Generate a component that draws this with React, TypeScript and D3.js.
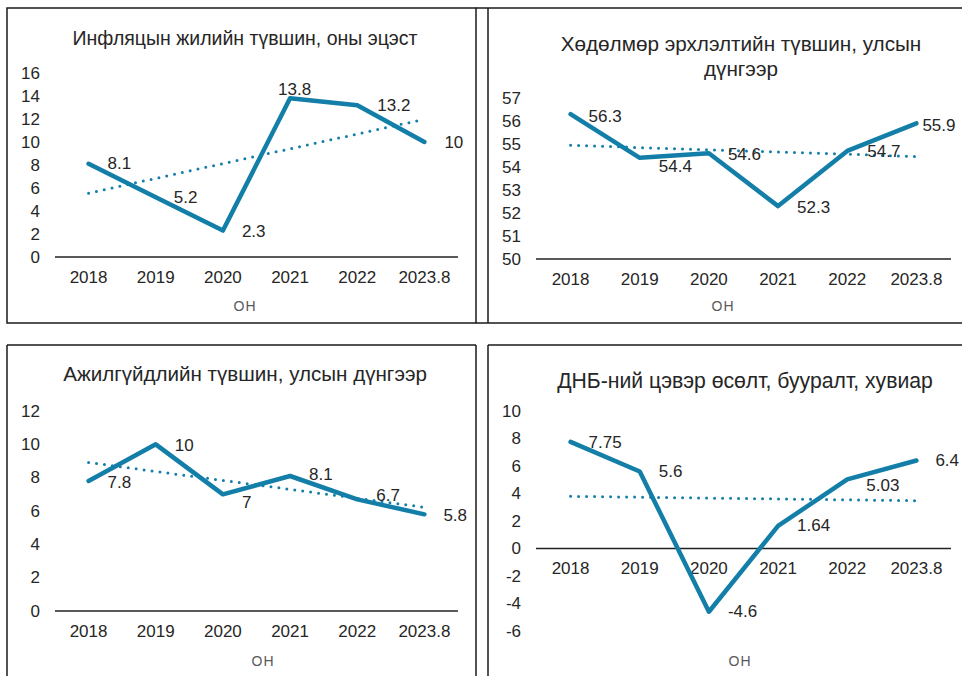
import React from 'react';
import * as d3 from 'd3';

const categories = ['2018', '2019', '2020', '2021', '2022', '2023.8'];

const inflation = [8.1, 5.2, 2.3, 13.8, 13.2, 10];
const employment = [56.3, 54.4, 54.6, 52.3, 54.7, 55.9];
const unemployment = [7.8, 10, 7, 8.1, 6.7, 5.8];
const gdpGrowth = [7.75, 5.6, -4.6, 1.64, 5.03, 6.4];

const inflationTicks = [0, 2, 4, 6, 8, 10, 12, 14, 16];
const employmentTicks = [50, 51, 52, 53, 54, 55, 56, 57];
const unemploymentTicks = [0, 2, 4, 6, 8, 10, 12];
const gdpTicks = [-6, -4, -2, 0, 2, 4, 6, 8, 10];

const inflationLabels = ['8.1', '5.2', '2.3', '13.8', '13.2', '10'];
const employmentLabels = ['56.3', '54.4', '54.6', '52.3', '54.7', '55.9'];
const unemploymentLabels = ['7.8', '10', '7', '8.1', '6.7', '5.8'];
const gdpLabels = ['7.75', '5.6', '-4.6', '1.64', '5.03', '6.4'];

const xAxisTitle = 'ОН';

const LINE = '#137fa8';
const TEXT = '#262626';
const FONT = '"Liberation Sans", Arial, sans-serif';

type PanelCfg = {
  title: string[];
  titleX: number;
  titleY: number;
  titleSize: number;
  values: number[];
  labels: string[];
  ticks: number[];
  x0: number;
  x1: number;
  yTop: number;
  yBottom: number;
  tickX: number;
  onX: number;
  onY: number;
  labelOffsets: [number, number][];
};

const panels: PanelCfg[] = [
  {
    title: ['Инфляцын жилийн түвшин, оны эцэст'],
    titleX: 245, titleY: 38, titleSize: 19.5,
    values: inflation, labels: inflationLabels, ticks: inflationTicks,
    x0: 55, x1: 458, yTop: 73, yBottom: 257, tickX: 40,
    onX: 245, onY: 306,
    labelOffsets: [[19, 0], [18, 0], [19, 1], [-12, -9], [20, 0], [20, 0]],
  },
  {
    title: ['Хөдөлмөр эрхлэлтийн түвшин, улсын', 'дүнгээр'],
    titleX: 741, titleY: 43, titleSize: 20.7,
    values: employment, labels: employmentLabels, ticks: employmentTicks,
    x0: 536, x1: 951, yTop: 98, yBottom: 259, tickX: 521,
    onX: 723, onY: 306,
    labelOffsets: [[18, 2], [19, 9], [19, 1], [19, 1], [20, 1], [6, 2]],
  },
  {
    title: ['Ажилгүйдлийн түвшин, улсын дүнгээр'],
    titleX: 245, titleY: 373, titleSize: 20.6,
    values: unemployment, labels: unemploymentLabels, ticks: unemploymentTicks,
    x0: 55, x1: 458, yTop: 411, yBottom: 611, tickX: 40,
    onX: 263, onY: 661,
    labelOffsets: [[19, 1], [19, 1], [19, 8], [19, -2], [19, -4], [19, 1]],
  },
  {
    title: ['ДНБ-ний цэвэр өсөлт, бууралт, хувиар'],
    titleX: 745, titleY: 380, titleSize: 21.2,
    values: gdpGrowth, labels: gdpLabels, ticks: gdpTicks,
    x0: 536, x1: 951, yTop: 411, yBottom: 631, tickX: 521,
    onX: 740, onY: 661,
    labelOffsets: [[18, 1], [19, 0], [19, 0], [19, 0], [19, 6], [19, 0]],
  },
];

function trend(values: number[]): [number, number] {
  const n = values.length;
  const xs = values.map((_, i) => i);
  const mx = d3.mean(xs) as number;
  const my = d3.mean(values) as number;
  let sxy = 0;
  let sxx = 0;
  values.forEach((v, i) => {
    sxy += (i - mx) * (v - my);
    sxx += (i - mx) * (i - mx);
  });
  const slope = sxy / sxx;
  const b = my - slope * mx;
  return [b, b + slope * (n - 1)];
}

function Panel({ cfg }: { cfg: PanelCfg }) {
  const x = d3.scaleBand<string>().domain(categories).range([cfg.x0, cfg.x1]);
  const cx = (c: string) => (x(c) as number) + x.bandwidth() / 2;
  const ext = d3.extent(cfg.ticks) as [number, number];
  const y = d3.scaleLinear().domain(ext).range([cfg.yBottom, cfg.yTop]);
  const line = d3
    .line<number>()
    .x((_, i) => cx(categories[i]))
    .y((d) => y(d));
  const [t0, t1] = trend(cfg.values);
  const zeroY = y(Math.max(0, ext[0]));
  return (
    <g>
      {cfg.title.map((t, i) => (
        <text
          key={i}
          x={cfg.titleX}
          y={cfg.titleY + i * 25}
          textAnchor="middle"
          dominantBaseline="central"
          fontSize={cfg.titleSize}
          fill={TEXT}
        >
          {t}
        </text>
      ))}
      {cfg.ticks.map((t) => (
        <text
          key={t}
          x={cfg.tickX}
          y={y(t)}
          textAnchor="end"
          dominantBaseline="central"
          fontSize={17}
          fill={TEXT}
        >
          {t}
        </text>
      ))}
      {categories.map((c) => (
        <text
          key={c}
          x={cx(c)}
          y={zeroY + 20}
          textAnchor="middle"
          dominantBaseline="central"
          fontSize={17}
          fill={TEXT}
        >
          {c}
        </text>
      ))}
      <line x1={cfg.x0} x2={cfg.x1} y1={zeroY} y2={zeroY} stroke="#222" strokeWidth={1.5} />
      <text
        x={cfg.onX}
        y={cfg.onY}
        textAnchor="middle"
        dominantBaseline="central"
        fontSize={14}
        letterSpacing={1}
        fill="#595959"
      >
        {xAxisTitle}
      </text>
      <line
        x1={cx(categories[0])}
        x2={cx(categories[categories.length - 1])}
        y1={y(t0)}
        y2={y(t1)}
        stroke={LINE}
        strokeWidth={3}
        strokeLinecap="round"
        strokeDasharray="0 8"
      />
      <path d={line(cfg.values) || ''} fill="none" stroke={LINE} strokeWidth={4.5} strokeLinejoin="round" strokeLinecap="round" />
      {cfg.values.map((v, i) => (
        <text
          key={i}
          x={cx(categories[i]) + cfg.labelOffsets[i][0]}
          y={y(v) + cfg.labelOffsets[i][1]}
          textAnchor="start"
          dominantBaseline="central"
          fontSize={17}
          fill={TEXT}
        >
          {cfg.labels[i]}
        </text>
      ))}
    </g>
  );
}

export default function App() {
  const B = '#1a1a1a';
  const bw = 1.5;
  return (
    <svg
      width={962}
      height={676}
      style={{ position: 'absolute', left: 0, top: 0, background: '#fff' }}
      fontFamily={FONT}
    >
      <rect x={0} y={0} width={962} height={676} fill="#fff" />
      {/* panel borders */}
      <rect x={7} y={8} width={469} height={315} fill="none" stroke={B} strokeWidth={bw} />
      <line x1={476} x2={962} y1={8} y2={8} stroke={B} strokeWidth={bw} />
      <line x1={488} x2={488} y1={8} y2={323} stroke={B} strokeWidth={bw} />
      <line x1={476} x2={962} y1={323} y2={323} stroke={B} strokeWidth={bw} />
      <line x1={7} x2={476} y1={345} y2={345} stroke={B} strokeWidth={bw} />
      <line x1={7} x2={7} y1={345} y2={676} stroke={B} strokeWidth={bw} />
      <line x1={476} x2={476} y1={345} y2={676} stroke={B} strokeWidth={bw} />
      <line x1={488} x2={962} y1={345} y2={345} stroke={B} strokeWidth={bw} />
      <line x1={488} x2={488} y1={345} y2={676} stroke={B} strokeWidth={bw} />
      {panels.map((p, i) => (
        <Panel key={i} cfg={p} />
      ))}
    </svg>
  );
}
